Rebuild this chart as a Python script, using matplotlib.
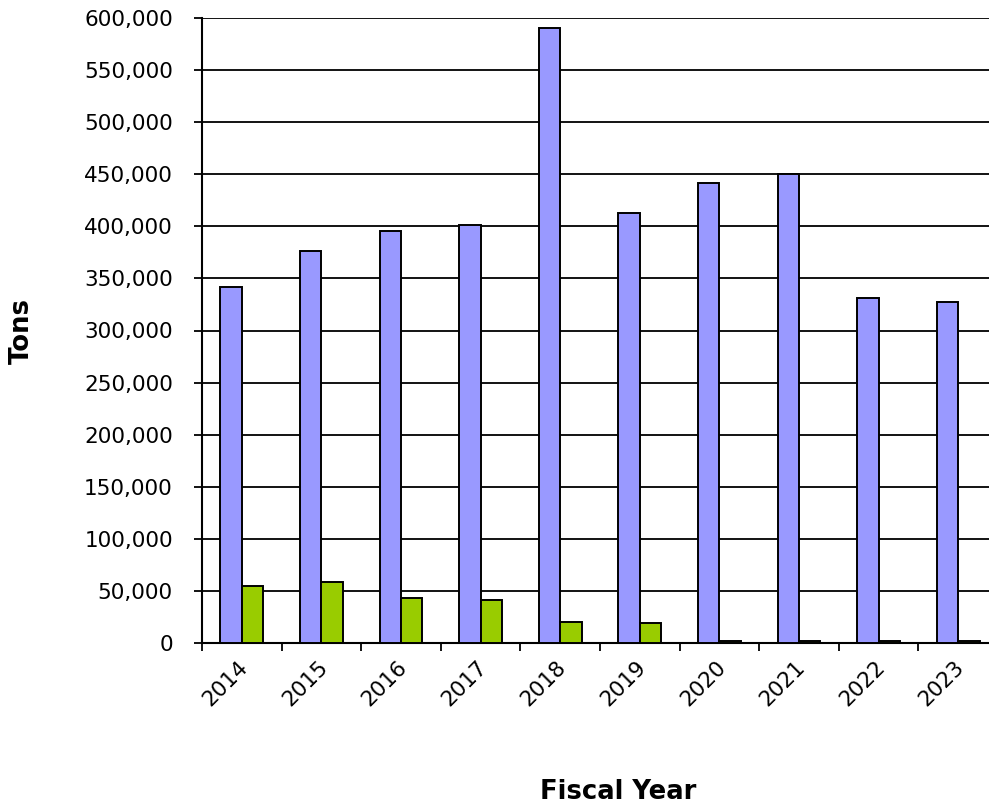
import matplotlib
matplotlib.use("Agg")
import matplotlib.pyplot as plt
import matplotlib.transforms as mtransforms
import numpy as np

years = ["2014", "2015", "2016", "2017", "2018", "2019", "2020", "2021", "2022", "2023"]
series_a = [342000, 376500, 395500, 401000, 590000, 413000, 442000, 450000, 331000, 327000]
series_b = [55000, 58500, 43500, 41600, 20400, 19000, 1500, 1500, 1500, 1500]
y_ticks = [0, 50000, 100000, 150000, 200000, 250000, 300000, 350000, 400000, 450000, 500000, 550000, 600000]

plt.rcParams["font.family"] = ["DejaVu Sans"]

fig = plt.figure(figsize=(9.89, 8.08), dpi=100)
ax = fig.add_axes([202 / 989, 1 - 643 / 808, 796 / 989, 625 / 808])

x = np.arange(len(years))
w = 0.27
ax.bar(x - w / 2, series_a, width=w, color="#9999FF", edgecolor="black", linewidth=1.4, zorder=3)
ax.bar(x + w / 2, series_b, width=w, color="#99CC00", edgecolor="black", linewidth=1.4, zorder=3)

ax.set_xlim(-0.5, len(years) - 0.5)
ax.set_ylim(0, 600000)

ax.set_yticks(y_ticks)
ax.set_yticklabels([f"{v:,}" for v in y_ticks], fontsize=15.5)
ax.yaxis.grid(True, color="black", linewidth=1.3, zorder=0)
ax.set_axisbelow(True)

# category boundary ticks and centered rotated labels
ax.set_xticks(x)
ax.set_xticklabels(years, fontsize=15.5, rotation=45, ha="right", va="top",
                   rotation_mode="anchor")
ax.set_xticks(np.arange(len(years) + 1) - 0.5, minor=True)
ax.tick_params(axis="x", which="major", length=0, pad=10)
ax.tick_params(axis="x", which="minor", length=6, width=1.3, color="black")
ax.tick_params(axis="y", length=6, width=1.3, pad=15, color="black")
offset = mtransforms.ScaledTranslation(-4 / 100, 0, fig.dpi_scale_trans)
for lab in ax.get_xticklabels():
    lab.set_transform(lab.get_transform() + offset)

for side in ["top", "right"]:
    ax.spines[side].set_visible(False)
for side in ["left", "bottom"]:
    ax.spines[side].set_linewidth(1.5)
    ax.spines[side].set_color("black")

fig.text(618 / 989, 1 - 792 / 808, "Fiscal Year", fontsize=18.6, fontweight="bold",
         ha="center", va="center")
fig.text(22 / 989, 1 - 331 / 808, "Tons", fontsize=18.6, fontweight="bold",
         rotation=90, ha="center", va="center")

fig.savefig("out.png", dpi=100)
